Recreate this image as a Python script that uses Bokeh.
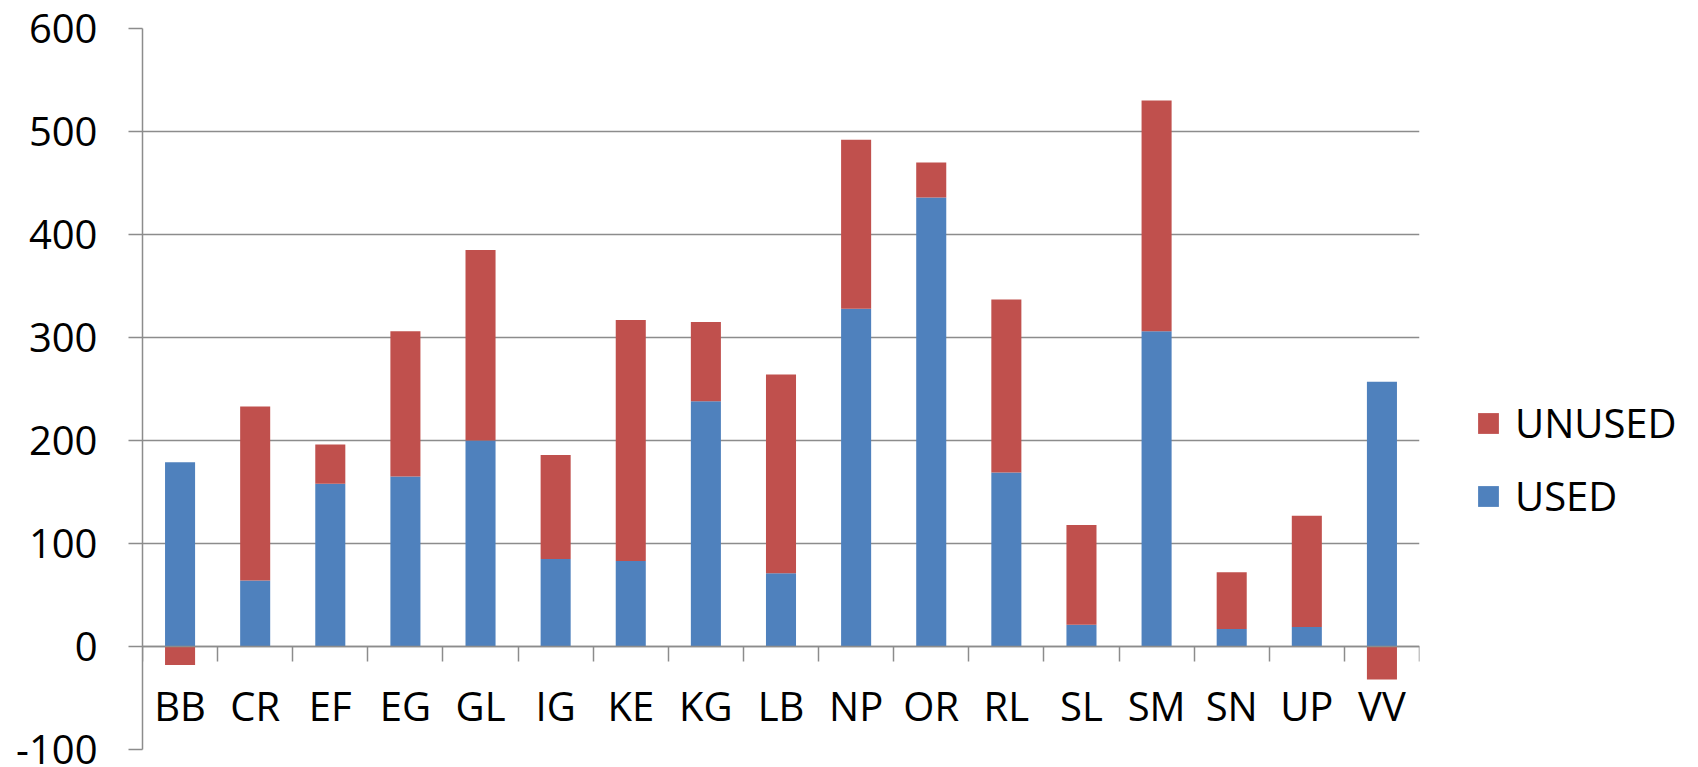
from bokeh.plotting import figure
from bokeh.models import (Range1d, FixedTicker, LinearAxis, Legend, LegendItem,
                          ColumnDataSource)
from bokeh.embed import file_html
from bokeh.resources import INLINE

# Site codes and their USED / UNUSED amounts
categories = ["BB", "CR", "EF", "EG", "GL", "IG", "KE", "KG", "LB",
              "NP", "OR", "RL", "SL", "SM", "SN", "UP", "VV"]
used = [179, 64, 158, 165, 200, 85, 83, 238, 71, 328, 436, 169, 21, 306, 17, 19, 257]
unused = [-18, 169, 38, 141, 185, 101, 234, 77, 193, 164, 34, 168, 97, 224, 55, 108, -32]
y_ticks = [-100, 0, 100, 200, 300, 400, 500, 600]

BLUE = "#4F81BD"
RED = "#C0504D"
GRID = "#8C8C8C"
FONT = "Open Sans"
FS = "40px"

n = len(categories)
centers = [i + 0.5 for i in range(n)]      # slot centres on an index scale
bounds = list(range(n + 1))                # slot boundaries

# Positive amounts stack on top of USED; negative ones hang below zero
un_bottom = [u if v >= 0 else 0 for u, v in zip(used, unused)]
un_top = [u + v if v >= 0 else v for u, v in zip(used, unused)]

src = ColumnDataSource(dict(x=centers, cat=categories, used=used, zero=[0] * n,
                            un_bottom=un_bottom, un_top=un_top))

p = figure(x_range=Range1d(0, n), y_range=Range1d(y_ticks[0], y_ticks[-1]),
           frame_width=1277, frame_height=721,
           min_border_left=142, min_border_top=28, min_border_right=279,
           min_border_bottom=18, x_axis_location=None,
           output_backend="svg", toolbar_location=None)
p.outline_line_color = None
p.background_fill_color = "white"
p.border_fill_color = "white"

r_used = p.vbar(x="x", bottom="zero", top="used", width=0.4, source=src,
                fill_color=BLUE, line_color=None)
r_unused = p.vbar(x="x", bottom="un_bottom", top="un_top", width=0.4, source=src,
                  fill_color=RED, line_color=None)

# Horizontal gridlines
p.xgrid.grid_line_color = None
p.ygrid.ticker = FixedTicker(ticks=y_ticks)
p.ygrid.grid_line_color = GRID
p.ygrid.grid_line_width = 1.5

# Value axis
yax = p.yaxis[0]
yax.ticker = FixedTicker(ticks=y_ticks)
yax.axis_line_color = GRID
yax.axis_line_width = 1.5
yax.major_tick_line_color = GRID
yax.major_tick_line_width = 1.5
yax.major_tick_out = 14
yax.major_tick_in = 0
yax.minor_tick_line_color = None
yax.major_label_standoff = 31
yax.major_label_text_font = FONT
yax.major_label_text_font_size = FS
yax.major_label_text_color = "black"
yax.major_label_overrides = {t: str(t) for t in y_ticks}

# Category axis on the zero line: tick marks between slots ...
tick_ax = LinearAxis(fixed_location=0, ticker=FixedTicker(ticks=bounds),
                     axis_line_color=GRID, axis_line_width=1.5,
                     major_tick_line_color=GRID, major_tick_line_width=1.5,
                     major_tick_out=15, major_tick_in=0,
                     minor_tick_line_color=None,
                     major_label_text_font_size="0px", major_label_text_color=None)
p.add_layout(tick_ax, "below")

# ... and the category names under each slot
label_ax = LinearAxis(fixed_location=0, ticker=FixedTicker(ticks=centers),
                      major_label_overrides={c: name for c, name in zip(centers, categories)},
                      axis_line_color=None, major_tick_line_color=None,
                      major_tick_out=0, major_tick_in=0, minor_tick_line_color=None,
                      major_label_standoff=31, major_label_text_font=FONT,
                      major_label_text_font_size=FS, major_label_text_color="black")
p.add_layout(label_ax, "below")

legend = Legend(items=[LegendItem(label="UNUSED", renderers=[r_unused]),
                       LegendItem(label="USED", renderers=[r_used])],
                location=(56, 226), orientation="vertical",
                border_line_color=None, background_fill_alpha=0,
                glyph_width=26, glyph_height=26, label_standoff=14,
                label_height=46, spacing=18, padding=10, margin=0,
                label_text_font=FONT, label_text_font_size=FS,
                label_text_color="black")
p.add_layout(legend, "right")

open("out.html", "w").write(file_html(p, INLINE))
